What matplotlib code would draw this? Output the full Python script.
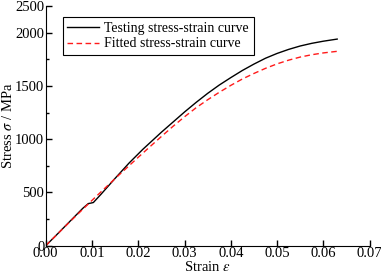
import numpy as np
import matplotlib
matplotlib.use('Agg')
import matplotlib.pyplot as plt
from matplotlib.ticker import FixedLocator

# 应力-应变数据
strain_test = [0, 0.002, 0.004, 0.006, 0.008, 0.0092, 0.0098, 0.0103, 0.012, 0.015,
               0.018, 0.021, 0.025, 0.0275, 0.030, 0.0325, 0.035, 0.0375, 0.040,
               0.0425, 0.045, 0.0475, 0.050, 0.0525, 0.055, 0.0575, 0.060, 0.063]
stress_test = [0, 86, 174, 262, 350, 395, 400, 405, 485, 632,
               775, 905, 1065, 1160, 1255, 1345, 1430, 1508, 1578,
               1645, 1705, 1760, 1805, 1843, 1875, 1900, 1920, 1940]

strain_fit = [0, 0.005, 0.010, 0.015, 0.020, 0.0225, 0.025, 0.0275, 0.030, 0.0325,
              0.035, 0.0375, 0.040, 0.0425, 0.045, 0.0475, 0.050, 0.0525, 0.055,
              0.0575, 0.060, 0.063]
stress_fit = [0, 215, 425, 630, 830, 928, 1025, 1120, 1210, 1295,
              1370, 1440, 1505, 1565, 1617, 1665, 1707, 1742, 1771,
              1793, 1810, 1825]

x_ticks = [0, 0.01, 0.02, 0.03, 0.04, 0.05, 0.06, 0.07]
y_ticks = [0, 500, 1000, 1500, 2000, 2500]
y_minor = [250, 750, 1250, 1750]

plt.rcParams['font.family'] = ['Liberation Serif', 'DejaVu Serif']
plt.rcParams['mathtext.fontset'] = 'stix'
plt.rcParams['font.size'] = 10.5


# 原图 2000 以上的纵轴被压缩了一半
def fwd(y):
    y = np.asarray(y, dtype=float)
    return np.where(y <= 2000, y, 2000 + (y - 2000) * 0.5)


def inv(y):
    y = np.asarray(y, dtype=float)
    return np.where(y <= 2000, y, 2000 + (y - 2000) * 2.0)


fig = plt.figure(figsize=(3.81, 2.76), dpi=100)
ax = fig.add_axes([0.12, 0.11, 0.85, 0.868])

ax.plot(strain_test, stress_test, color='black', lw=1.0,
        label='Testing stress-strain curve')
ax.plot(strain_fit, stress_fit, color='#ff1a1a', lw=1.0, dashes=(4, 2.5),
        label='Fitted stress-strain curve')

ax.set_yscale('function', functions=(fwd, inv))
ax.set_xlim(0, 0.07)
ax.set_ylim(0, 2500)
ax.set_xticks(x_ticks)
ax.set_xticklabels(['%.2f' % v for v in x_ticks])
ax.set_yticks(y_ticks)
ax.set_yticklabels([str(v) for v in y_ticks])
ax.yaxis.set_minor_locator(FixedLocator(y_minor))
ax.xaxis.set_minor_locator(FixedLocator([]))

ax.spines['top'].set_visible(False)
ax.spines['right'].set_visible(False)
ax.tick_params(direction='in', length=4, width=1, pad=1)
ax.tick_params(which='minor', direction='in', length=2.5, width=1)

ax.set_xlabel(r'Strain $\varepsilon$', labelpad=0)
ax.set_ylabel(r'Stress $\sigma$ / MPa', labelpad=0)

leg = ax.legend(loc='upper left', bbox_to_anchor=(0.052, 0.955), borderaxespad=0,
                fancybox=False, framealpha=1, edgecolor='black', fontsize=10,
                handlelength=2.3, handletextpad=0.35, borderpad=0.35,
                labelspacing=0.2)
leg.get_frame().set_linewidth(0.8)

fig.savefig('out.png', dpi=100)
